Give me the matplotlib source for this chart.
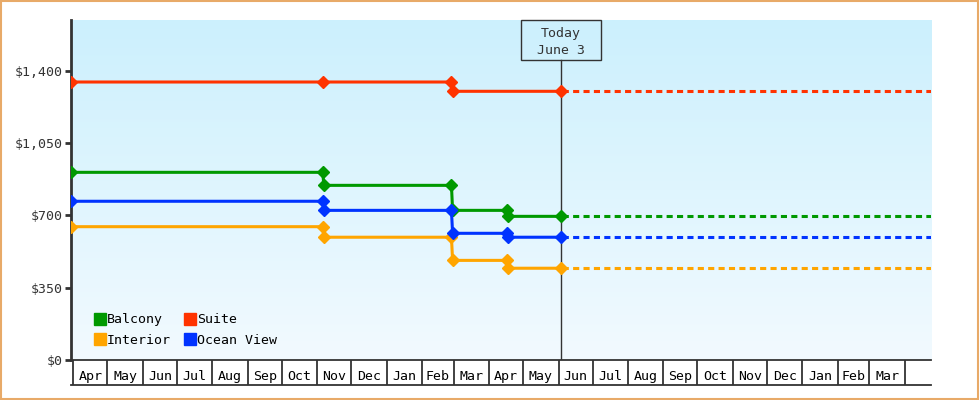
import matplotlib
matplotlib.use('Agg')
import matplotlib.pyplot as plt
import matplotlib.dates as mdates
from matplotlib.colors import LinearSegmentedColormap
from matplotlib.patches import Rectangle
from matplotlib.lines import Line2D
from matplotlib.transforms import blended_transform_factory
import numpy as np
from datetime import datetime

# price history (each change is recorded as old price / new price on consecutive days)
dates = ['2024-03-30', '2024-11-06', '2024-11-07', '2025-02-27', '2025-02-28',
         '2025-04-17', '2025-04-18', '2025-06-03']
suite_dates = ['2024-03-30', '2024-11-06', '2025-02-27', '2025-02-28', '2025-06-03']
balcony = [908, 908, 845, 845, 724, 724, 695, 695]
suite = [1345, 1345, 1345, 1300, 1300]
interior = [645, 645, 594, 594, 482, 482, 444, 444]
ocean_view = [768, 768, 724, 724, 613, 613, 594, 594]

series = [('Balcony', dates, balcony, '#009900'),
          ('Interior', dates, interior, '#ffa500'),
          ('Suite', suite_dates, suite, '#ff3300'),
          ('Ocean View', dates, ocean_view, '#0033ff')]

today = datetime(2025, 6, 3)
x_start = datetime(2024, 3, 30)
x_end = datetime(2026, 4, 24)
month_starts = [datetime(2024 + (3 + i) // 12, (3 + i) % 12 + 1, 1) for i in range(25)]
month_labels = ['Apr', 'May', 'Jun', 'Jul', 'Aug', 'Sep', 'Oct', 'Nov', 'Dec', 'Jan', 'Feb', 'Mar',
                'Apr', 'May', 'Jun', 'Jul', 'Aug', 'Sep', 'Oct', 'Nov', 'Dec', 'Jan', 'Feb', 'Mar']
y_ticks = [0, 350, 700, 1050, 1400]

FONT = 'DejaVu Sans Mono'
INK = '#333333'

fig = plt.figure(figsize=(9.8, 4), dpi=100)
ax = fig.add_axes([71 / 980, 40 / 400, 860 / 980, 340 / 400])

# background gradient
grad = np.linspace(0, 1, 256).reshape(-1, 1)
cmap = LinearSegmentedColormap.from_list('bg', ['#ccf0fd', '#f2faff'])
ax.imshow(grad, cmap=cmap, aspect='auto', extent=[0, 1, 0, 1],
          transform=ax.transAxes, zorder=0)

for name, d, vals, col in series:
    x = [datetime.strptime(s, '%Y-%m-%d') for s in d]
    ax.plot(x, vals, color=col, lw=2.2, marker='D', ms=6.5, zorder=4,
            solid_joinstyle='miter')
    ax.plot([today, x_end], [vals[-1], vals[-1]], color=col, lw=2.2,
            linestyle=(3, (2, 1.4)), dash_capstyle='butt', zorder=3)

ax.set_xlim(x_start, x_end)
ax.set_ylim(0, 1645)

# y axis
ax.set_yticks(y_ticks)
ax.set_yticklabels(['${:,}'.format(v) for v in y_ticks], fontfamily=FONT, fontsize=9.5, color=INK)
ax.tick_params(axis='y', direction='out', length=4, width=2, color=INK, pad=2)

# x axis: month cells
ax.set_xticks(month_starts)
ax.set_xticklabels([])
ax.tick_params(axis='x', which='major', direction='out', length=18, width=1.3, color=INK)
mids = [month_starts[i] + (month_starts[i + 1] - month_starts[i]) / 2 for i in range(24)]
ax.set_xticks(mids, minor=True)
ax.set_xticklabels(month_labels, minor=True, fontfamily=FONT, fontsize=9.5, color='black')
ax.tick_params(axis='x', which='minor', length=0, pad=7)

for s in ['top', 'right']:
    ax.spines[s].set_visible(False)
ax.spines['left'].set_linewidth(2)
ax.spines['left'].set_color(INK)
ax.spines['bottom'].set_linewidth(1.3)
ax.spines['bottom'].set_color(INK)
ax.plot([0, 1], [-25 / 340, -25 / 340], transform=ax.transAxes, color=INK,
        lw=1.3, clip_on=False)

# today marker
tx = (mdates.date2num(today) - mdates.date2num(x_start)) / (mdates.date2num(x_end) - mdates.date2num(x_start))
trans = blended_transform_factory(ax.transData, ax.transAxes)
ax.plot([today, today], [0, 1 - 40 / 340], transform=trans, color=INK, lw=1, zorder=2)
bw, bh = 80 / 860, 40 / 340
ax.add_patch(Rectangle((tx - bw / 2, 1 - bh), bw, bh, transform=ax.transAxes,
                       facecolor='none', edgecolor=INK, lw=1, zorder=5, clip_on=False))
ax.text(tx, 1 - bh / 2 - 2 / 340, 'Today\nJune 3', transform=ax.transAxes, ha='center',
        va='center', fontfamily=FONT, fontsize=9.5, color=INK, linespacing=1.45, zorder=6)

# legend
handles = [Line2D([], [], marker='s', ls='none', color=c, ms=8) for _, _, _, c in series]
ax.legend(handles, [n for n, _, _, _ in series], ncol=2, loc='lower left',
          bbox_to_anchor=(0.02, 0.02), frameon=False, handlelength=0.8,
          handletextpad=0.1, columnspacing=1.1, labelspacing=0.55, borderpad=0,
          prop={'family': FONT, 'size': 9.5})

# outer border
fig.patches.append(Rectangle((0.001, 0.002), 0.997, 0.995, transform=fig.transFigure,
                             facecolor='none', edgecolor='#e8aa68', lw=1.5))

fig.savefig('out.png', dpi=100)
